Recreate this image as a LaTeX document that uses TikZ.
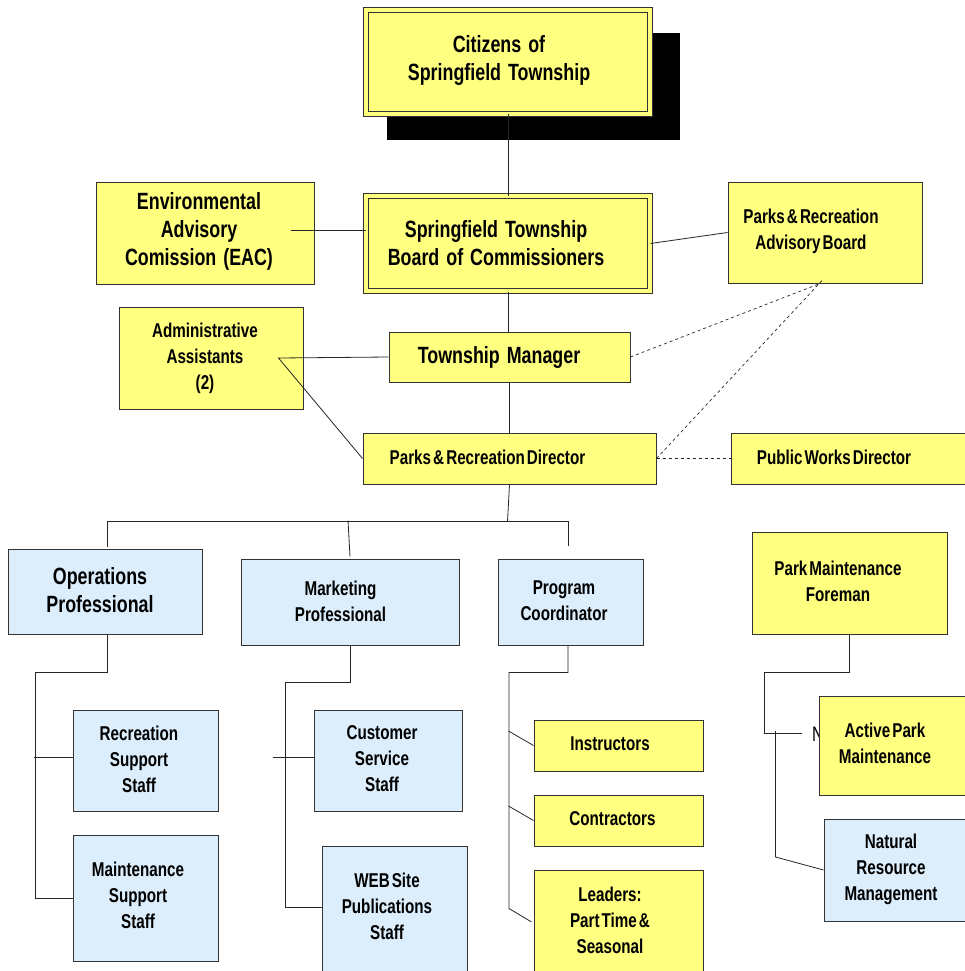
\documentclass[tikz,border=0pt]{standalone}
\usepackage{fontspec}
\usetikzlibrary{shadows}
\newfontfamily\bigfont[FakeStretch=0.76]{Liberation Sans}
\newfontfamily\smallfont[FakeStretch=0.76,WordSpace=0.5]{Liberation Sans}
\newcommand\bigsp{\spaceskip=7pt plus 2pt\relax}
\definecolor{boxyellow}{RGB}{255,255,128}
\definecolor{boxblue}{RGB}{220,238,252}
\tikzset{
	ybox/.style={draw=black!80, line width=1pt, fill=boxyellow, inner sep=0pt},
	bbox/.style={draw=black!80, line width=1pt, fill=boxblue, inner sep=0pt},
	dbl/.style={double=boxyellow, double distance=4pt},
	bigtext/.style={font=\bigfont\bfseries\fontsize{23.5}{28}\selectfont\bigsp, align=center, inner sep=0pt},
	smalltext/.style={font=\smallfont\bfseries\fontsize{20}{26}\selectfont, align=center, inner sep=0pt},
	link/.style={black!85, line width=0.8pt},
	dotlink/.style={black!85, line width=0.7pt, dash pattern=on 3pt off 3pt}
}
\begin{document}
\begin{tikzpicture}[x=1pt,y=-1pt]
			\useasboundingbox (0,0) rectangle (964,971);
			\node[ybox, dbl, minimum width=284, minimum height=104, drop shadow={fill=black, opacity=1, shadow xshift=25pt, shadow yshift=-24pt, shadow scale=1.03}] (cit) at (508,62) {};
			\node[ybox, dbl, minimum width=284, minimum height=95] (brd) at (508,243.5) {};
			\node[ybox, minimum width=218, minimum height=102] (eac) at (205,233) {};
			\node[ybox, minimum width=194, minimum height=101] (pab) at (825,232.5) {};
			\node[ybox, minimum width=184, minimum height=102] (adm) at (211,358) {};
			\node[ybox, minimum width=241, minimum height=50] (tm) at (509.5,357) {};
			\node[ybox, minimum width=293, minimum height=51] (dir) at (509.5,458.5) {};
			\node[ybox, minimum width=249, minimum height=51] (pwd) at (855.5,458.5) {};
			\node[bbox, minimum width=194, minimum height=85] (ops) at (105,591.5) {};
			\node[bbox, minimum width=218, minimum height=86] (mkt) at (350,602) {};
			\node[bbox, minimum width=145, minimum height=86] (prg) at (570.5,602) {};
			\node[ybox, minimum width=195, minimum height=102] (pmf) at (849.5,583) {};
			\node[bbox, minimum width=145, minimum height=101] (rss) at (145.5,760.5) {};
			\node[bbox, minimum width=145, minimum height=126] (mss) at (145.5,898) {};
			\node[bbox, minimum width=148, minimum height=101] (css) at (388,760.5) {};
			\node[bbox, minimum width=145, minimum height=139] (web) at (394.5,915.5) {};
			\node[ybox, minimum width=169, minimum height=51] (ins) at (618.5,745.5) {};
			\node[ybox, minimum width=169, minimum height=51] (con) at (618.5,820.5) {};
			\node[ybox, minimum width=169, minimum height=120] (lea) at (618.5,930) {};
			\node[font=\bigfont\fontsize{21}{21}\selectfont, anchor=west, inner sep=0pt] (stray) at (812,734) {N};
			\node[ybox, minimum width=161, minimum height=99] (apm) at (899.5,745.5) {};
			\node[bbox, minimum width=156, minimum height=102] (nrm) at (902,870) {};
			
			\node[bigtext] (cit-t) at (499,60) {Citizens of\\Springfield Township};
			\node[bigtext] (brd-t) at (496,243) {Springfield Township\\Board of Commissioners};
			\node[bigtext] (eac-t) at (199,231) {Environmental\\Advisory\\Comission (EAC)};
			\node[smalltext] (pab-t) at (811,231) {Parks \& Recreation\\Advisory Board};
			\node[smalltext] (adm-t) at (205,358) {Administrative\\Assistants\\(2)};
			\node[bigtext] (tm-t) at (499,357) {Township Manager};
			\node[smalltext] (dir-t) at (487.5,457) {Parks \& Recreation Director};
			\node[smalltext] (pwd-t) at (834,457) {Public Works Director};
			\node[bigtext] (ops-t) at (100,590) {Operations\\Professional};
			\node[smalltext] (mkt-t) at (340.5,601) {Marketing\\Professional};
			\node[smalltext] (prg-t) at (564,601) {Program\\Coordinator};
			\node[smalltext] (pmf-t) at (838,581) {Park Maintenance\\Foreman};
			\node[smalltext] (rss-t) at (139,759) {Recreation\\Support\\Staff};
			\node[smalltext] (mss-t) at (138,895) {Maintenance\\Support\\Staff};
			\node[smalltext] (css-t) at (382,759) {Customer\\Service\\Staff};
			\node[smalltext] (web-t) at (387,906) {WEB Site\\Publications\\Staff};
			\node[smalltext] (ins-t) at (610,744) {Instructors};
			\node[smalltext] (con-t) at (612.5,819) {Contractors};
			\node[smalltext] (lea-t) at (610,920) {Leaders:\\Part Time \&\\Seasonal};
			\node[smalltext] (apm-t) at (885,743) {Active Park\\Maintenance};
			\node[smalltext] (nrm-t) at (891,869) {Natural\\Resource\\Management};
			
			\draw[link] (cit.south) -- (brd.north);
			\draw[link] (brd.south) -- (brd.south |- tm.north);
			\draw[link] (tm.south) -- (tm.south |- dir.north);
			\draw[link] ([shift={(-24,-3)}]eac.east) coordinate (e1) -- (e1 -| brd.west);
			\draw[link] (brd.east) -- (pab.west);
			\coordinate (a1) at ([xshift=-25pt]adm.east);
			\draw[link] (tm.west) -- (a1) -- (dir.west);
			\draw[dotlink] (tm.east) -- ([xshift=-5pt]pab.south);
			\draw[dotlink] (dir.east) -- ([shift={(-3,-3)}]pab.south);
			\draw[dotlink] (dir.east) -- (pwd.west);
			\coordinate (bus) at ([shift={(-2,37)}]dir.south);
			\draw[link] (dir.south) -- (bus);
			\draw[link] ([shift={(2,-2)}]ops.north) |- (bus) -| ([shift={(-2,-13)}]prg.north);
			\draw[link] ([shift={(-2,-38)}]mkt.north) -- ([shift={(0,-2)}]mkt.north);
			\draw[link] ([xshift=2pt]ops.south) -- ++(0,38) -| ([xshift=-37pt]mss.west) -- (mss.west);
			\draw[link] ([shift={(-39,-3)}]rss.west) -- ([shift={(0,-3)}]rss.west);
			\draw[link] (mkt.south) -- ++(0,37) -| ([shift={(-36,-8.5)}]web.west) -- ([shift={(0,-8.5)}]web.west);
			\draw[link] ([shift={(-41,-3.5)}]css.west) -- ([shift={(0,-3.5)}]css.west);
			\draw[link] ([xshift=-2.5pt]prg.south) -- ++(0,27) -- ++(-59,0) -- ++(0,236) -- ([shift={(-2,-8)}]lea.west);
			\draw[link] ([shift={(-25,-14.5)}]ins.west) -- (ins.west);
			\draw[link] ([shift={(-25,-14.5)}]con.west) -- (con.west);
			\draw[link] (pmf.south) -- ++(0,38) -| ++(-85,61) -- ++(37,0) coordinate (pend);
			\draw[link] ([shift={(-48,-139)}]nrm.west) -- ++(0,126) -- (nrm.west);
			
			\end{tikzpicture}
\end{document}
